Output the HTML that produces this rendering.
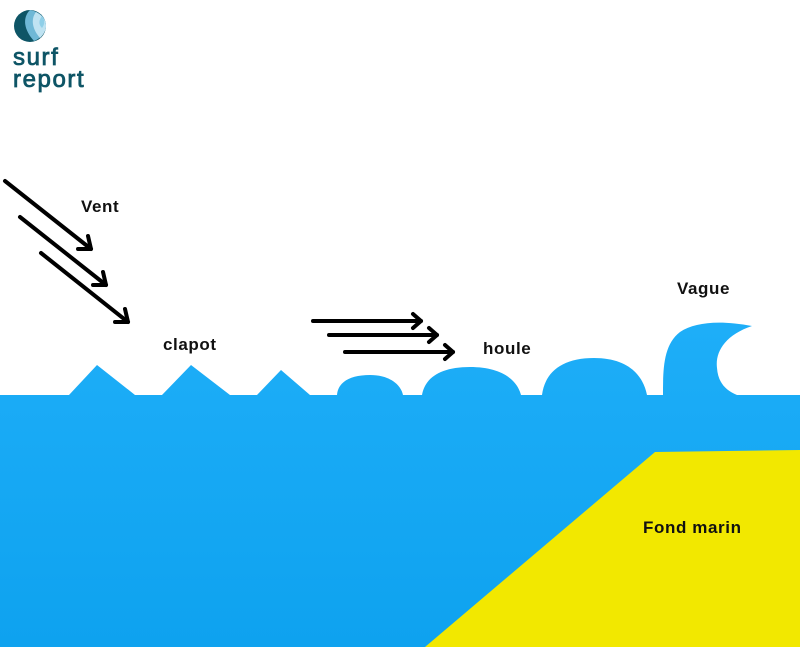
<!DOCTYPE html>
<html><head><meta charset="utf-8"><style>
html,body{margin:0;padding:0;background:#fff;}
body{width:800px;height:647px;overflow:hidden;position:relative;font-family:"Liberation Sans",sans-serif;}
</style></head><body>
<svg width="800" height="647" viewBox="0 0 800 647" xmlns="http://www.w3.org/2000/svg" style="position:absolute;left:0;top:0">
<defs>
<linearGradient id="w" x1="0" y1="0" x2="0" y2="1">
<stop offset="0" stop-color="#1eaef8"/><stop offset="1" stop-color="#0ea2ef"/>
</linearGradient>
</defs>
<path fill="url(#w)" d="M0,395 L69,395 L97,365 L135,395 L162,395 L191,365 L230,395 L257,395 L281,370 L310,395 L337,395
C338,382 350,375 370,375 C390,375 401,385 403,395 L422,395
C425,378 440,367 470,367 C502,367 517,380 521,395 L542,395
C545,372 562,358 594,358 C628,358 643,375 647,395 L663,395
C663,370 663,345 680,332 C695,322 720,320 752,326 C725,335 715,352 717,368 C718,382 725,390 737,395 L800,395 L800,647 L0,647 Z"/>
<path fill="#f2e800" d="M425,647 L655,452 L800,450 L800,647 Z"/>
<g stroke="#000" stroke-width="4" fill="none" stroke-linecap="round" stroke-linejoin="round">
<line x1="5" y1="181" x2="91" y2="249"/><polyline points="78,249 91,249 88,236"/>
<line x1="20" y1="217" x2="106" y2="285"/><polyline points="93,285 106,285 103,272"/>
<line x1="41" y1="253" x2="128" y2="322"/><polyline points="115,322 128,322 125,309"/>
<line x1="313" y1="321" x2="421" y2="321"/><polyline points="413,314 421,321 413,328"/>
<line x1="329" y1="335" x2="437" y2="335"/><polyline points="429,328 437,335 429,342"/>
<line x1="345" y1="352" x2="453" y2="352"/><polyline points="445,345 453,352 445,359"/>
</g>
<g font-family="Liberation Sans, sans-serif" font-weight="bold" font-size="17" fill="#111" letter-spacing="0.6">
<text x="81" y="212">Vent</text>
<text x="163" y="350">clapot</text>
<text x="483" y="354">houle</text>
<text x="677" y="294">Vague</text>
<text x="643" y="533">Fond marin</text>
</g>
<g>
<circle cx="30" cy="26" r="16" fill="#0e5566"/>
<path d="M30,10 C22,18 24,30 34,41 C42,38 46,30 46,26 C46,18 40,12 30,10Z" fill="#6fb8d6"/>
<path d="M36,12 C30,20 33,30 40,38 C44,34 46,30 46,26 C46,20 42,15 36,12Z" fill="#bfe3f2"/>
<path d="M42,16 C39,20 38,24 42,28 C45,24 45,20 42,16Z" fill="#8fcfe8"/>
</g>
<g font-family="Liberation Sans, sans-serif" font-size="24" fill="#0e5566" stroke="#0e5566" stroke-width="0.8" letter-spacing="1.6">
<text x="13" y="65">surf</text>
<text x="13" y="87">report</text>
</g>
</svg>
</body></html>
